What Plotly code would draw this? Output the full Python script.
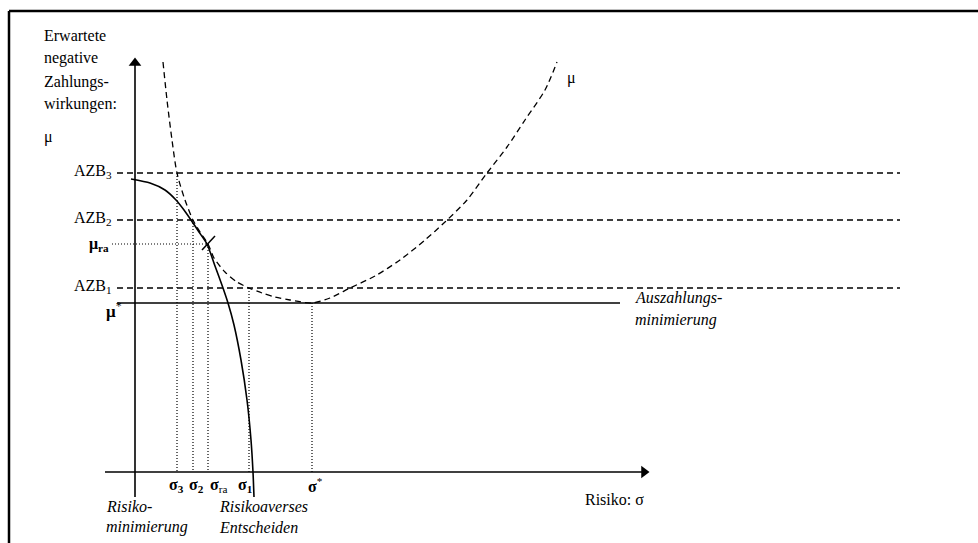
import plotly.graph_objects as go

# ---- data (sigma = risk, mu = expected negative payments) ----
level_names = ["AZB<sub>3</sub>", "AZB<sub>2</sub>", "AZB<sub>1</sub>"]
level_mu = [299, 252, 184]
level_sigma = [42, 58, 114]          # where each AZB level meets the curves
level_sigma_labels = ["<b>σ</b><sub><b>3</b></sub>", "<b>σ</b><sub><b>2</b></sub>", "<b>σ</b><sub><b>1</b></sub>"]
level_sigma_label_pos = [41, 61, 110]

mu_ra = 228
sigma_ra = 73
mu_star = 169
sigma_star = 177

# risk-minimisation frontier (solid)
front_sigma = [-4, 15, 30, 41, 49, 56, 64, 72, 80, 88, 93, 99, 106, 112, 116, 118, 119]
front_mu = [293, 289, 282, 272, 262, 252, 240, 228, 206, 184, 169, 147, 112, 72, 32, 0, -25]

# mu-sigma curve (dashed)
curve_sigma = [28, 32, 37, 42, 50, 58, 65, 73, 79, 90, 102, 114, 127, 140, 155, 177,
               195, 215, 240, 265, 290, 310, 332, 352, 372, 390, 410, 422]
curve_mu = [410, 372, 332, 299, 272, 252, 240, 228, 214, 200, 190, 184, 179, 175, 172, 169,
            174, 184, 196, 212, 232, 250, 272, 299, 325, 352, 382, 410]

FONT = "Liberation Serif, Times New Roman, DejaVu Serif, serif"
FS = 16
fig = go.Figure()

def line(xs, ys, width=1.5, dash="solid"):
    fig.add_trace(go.Scatter(x=xs, y=ys, mode="lines", showlegend=False, hoverinfo="skip",
                             line=dict(color="black", width=width, dash=dash)))

# axes
line([0, 0], [-25, 408], width=1.6)
line([-30, 508], [0, 0], width=1.6)
fig.add_trace(go.Scatter(x=[0], y=[409], mode="markers", showlegend=False, hoverinfo="skip",
                         marker=dict(symbol="triangle-up", size=11, color="black")))
fig.add_trace(go.Scatter(x=[509], y=[0], mode="markers", showlegend=False, hoverinfo="skip",
                         marker=dict(symbol="triangle-right", size=11, color="black")))

# horizontal AZB levels
for m in level_mu:
    line([-18, 765], [m, m], width=1.5, dash="6px,4px")
# mu* line
line([-18, 485], [mu_star, mu_star], width=1.6)
# mu_ra dotted
line([-23, sigma_ra], [mu_ra, mu_ra], width=1.2, dash="1px,2px")

# vertical dotted drops
for s, m in zip(level_sigma + [sigma_ra, sigma_star], level_mu + [mu_ra, mu_star]):
    line([s, s], [m, 0], width=1.2, dash="1px,2px")

# curves
fig.add_trace(go.Scatter(x=front_sigma, y=front_mu, mode="lines", showlegend=False, hoverinfo="skip",
                         line=dict(color="black", width=1.6, shape="spline", smoothing=0.6)))
fig.add_trace(go.Scatter(x=curve_sigma, y=curve_mu, mode="lines", showlegend=False, hoverinfo="skip",
                         line=dict(color="black", width=1.3, dash="6px,4px", shape="spline", smoothing=0.8)))
# cross mark at tangency point
line([67, 80], [222, 236], width=1.5)

def txt(x, y, s, xanchor="left", italic=False, size=FS):
    if italic:
        s = "<i>" + s + "</i>"
    fig.add_annotation(x=x, y=y, xref="x", yref="y", text=s, showarrow=False,
                       xanchor=xanchor, yanchor="middle",
                       font=dict(family=FONT, size=size, color="black"))

# y-axis title
for s, yy in zip(["Erwartete", "negative", "Zahlungs-", "wirkungen:", "μ"], [437, 414, 390, 368, 335]):
    txt(-93, yy, s)

# level labels
for n, m in zip(level_names, level_mu):
    txt(-21, m + 2, n, xanchor="right")
txt(-24, mu_ra, "<b>μ</b><sub><b>ra</b></sub>", xanchor="right")
txt(-31, mu_star - 7, "<b>μ</b><sup>*</sup>", size=17)

# sigma labels
for s, lab in zip(level_sigma_label_pos, level_sigma_labels):
    txt(s, -13, lab, xanchor="center", size=16)
txt(sigma_ra + 10, -13, "<b>σ</b><sub>ra</sub>", xanchor="center", size=16)
txt(sigma_star + 3, -13, "<b>σ</b><sup>*</sup>", xanchor="center", size=16)

# other labels
txt(-31, -34, "Risiko-", italic=True)
txt(-31, -55, "minimierung", italic=True)
txt(82, -34, "Risikoaverses", italic=True)
txt(82, -55, "Entscheiden", italic=True)
txt(498, 174, "Auszahlungs-", italic=True)
txt(498, 152, "minimierung", italic=True)
txt(448, -27, "Risiko: σ")
txt(430, 394, "μ")

# frame (partially outside the page)
fig.add_shape(type="line", xref="paper", yref="paper", x0=9/978, x1=1.05, y0=1-11/543, y1=1-11/543,
              line=dict(color="black", width=2.5))
fig.add_shape(type="line", xref="paper", yref="paper", x0=9/978, x1=9/978, y0=1-11/543, y1=-0.05,
              line=dict(color="black", width=2.5))

fig.update_layout(width=978, height=543, margin=dict(l=0, r=0, t=0, b=0),
                  paper_bgcolor="white", plot_bgcolor="white",
                  xaxis=dict(range=[-135, 843], visible=False, fixedrange=True),
                  yaxis=dict(range=[-71, 472], visible=False, fixedrange=True))
fig.write_html("out.html", config={"displayModeBar": False},
               post_script="document.body.style.margin='0px';document.body.style.overflow='hidden';")
